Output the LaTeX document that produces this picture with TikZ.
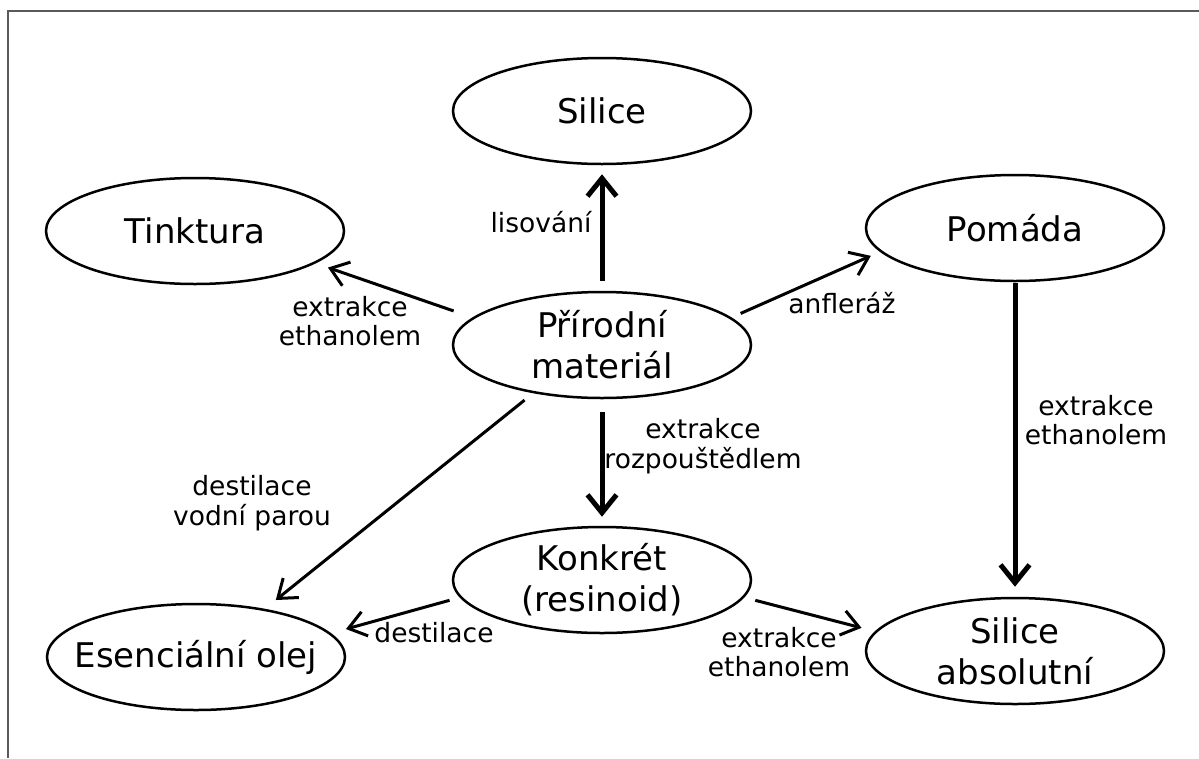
\documentclass[tikz,border=0pt]{standalone}
\usepackage{fontspec}
\setmainfont{DejaVu Sans}
\usetikzlibrary{arrows.meta,shapes.geometric}
\definecolor{framegray}{RGB}{90,90,90}
\begin{document}
\begin{tikzpicture}[x=1pt,y=-1pt,
  state/.style={ellipse,draw,line width=2.5pt,minimum width=298pt,minimum height=106pt,
    inner xsep=-40pt,inner ysep=-20pt,align=center,font=\fontsize{34}{41}\selectfont},
  lbl/.style={align=center,font=\fontsize{26.5}{29.5}\selectfont,inner sep=0pt},
  arr/.style={-{Straight Barb[length=17pt,width=25pt]},line width=3pt},
  thickarr/.style={-{Straight Barb[length=18pt,width=29pt]},line width=5pt},
  frameline/.style={draw=framegray,line width=1.6pt}
]
\useasboundingbox (0,0) rectangle (1199,758);
\fill[white] (0,0) rectangle (1199,758);
\coordinate (fa) at (8,758);
\coordinate (fb) at (8,11);
\coordinate (fc) at (1199,11);
\draw[frameline] (fa) -- (fb) -- (fc);

\node[state] (sil)  at (602,111) {Silice};
\node[state] (tink) at (195,231) {Tinktura};
\node[state] (pom)  at (1015,228) {Pomáda};
\node[state] (prir) at (602,345) {Přírodní\\materiál};
\node[state] (konk) at (602,580) {Konkrét\\(resinoid)};
\node[state] (esen) at (196,657) {Esenciální olej};
\node[state] (abs)  at (1015,651) {Silice\\absolutní};

\draw[thickarr,shorten <=10pt,shorten >=9pt] (prir.north) -- (sil.south);
\draw[arr,shorten <=20pt,shorten >=13pt] (prir.168.2) -- (tink.-15.6);
\draw[arr,shorten <=10pt,shorten >=10pt] (prir.12.5) -- (pom.190.8);
\draw[thickarr,shorten <=13pt,shorten >=9pt] (prir.south) -- (konk.north);
\draw[arr,shorten <=11pt,shorten >=14pt] (prir.215) -- (esen.35.6);
\draw[thickarr,shorten <=1pt,shorten >=10pt] (pom.south) -- (abs.north);
\draw[arr,shorten <=10.6pt,shorten >=15.5pt] (konk.187.5) -- (esen.10.9);
\draw[arr,shorten <=11.4pt,shorten >=13.9pt] (konk.-7) -- (abs.172);

\node[lbl] (l1) at (541,222) {lisování};
\node[lbl] (l2) at (350,321) {extrakce\\ethanolem};
\node[lbl] (l3) at (842,303) {anfleráž};
\node[lbl] (l4) at (703,446) {extrakce\\rozpouštědlem};
\node[lbl] (l5) at (252,503) {destilace\\vodní parou};
\node[lbl] (l6) at (1096,420) {extrakce\\ethanolem};
\node[lbl] (l7) at (434,633) {destilace};
\node[lbl] (l8) at (779,652) {extrakce\\ethanolem};
\end{tikzpicture}
\end{document}
